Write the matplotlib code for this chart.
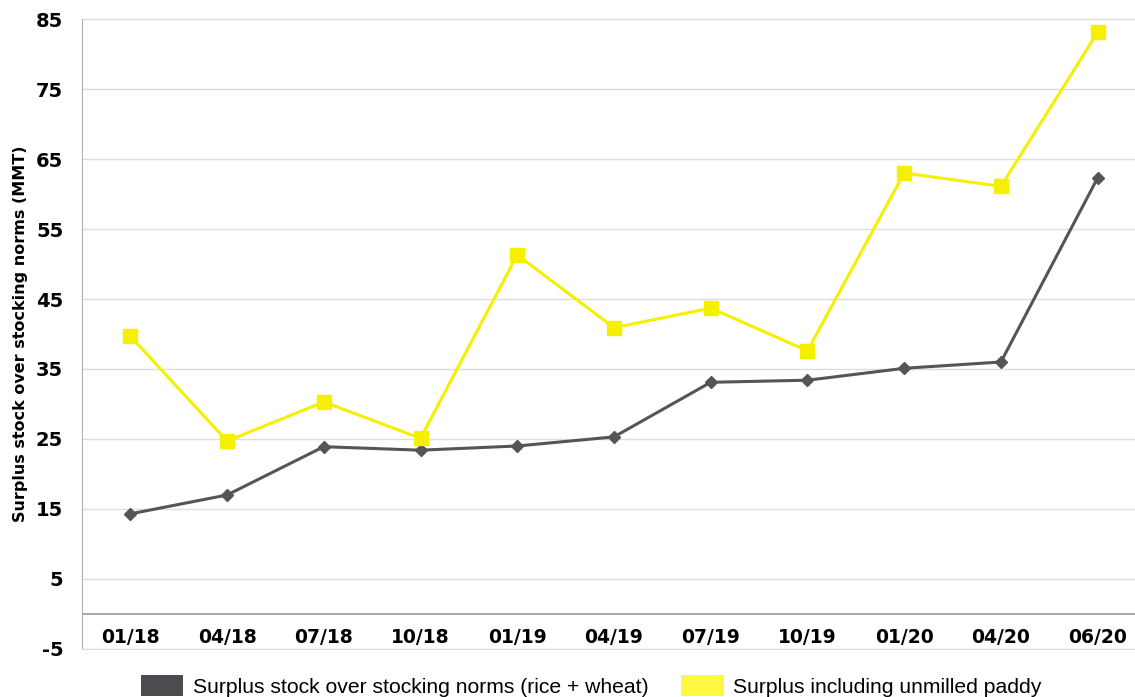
import matplotlib
matplotlib.use("Agg")
import matplotlib.pyplot as plt
from matplotlib.patches import Patch

# Data
periods = ['01/18', '04/18', '07/18', '10/18', '01/19', '04/19',
           '07/19', '10/19', '01/20', '04/20', '06/20']
surplus_rice_wheat = [14.3, 17.0, 23.9, 23.4, 24.0, 25.3, 33.1, 33.4, 35.1, 36.0, 62.3]
surplus_with_paddy = [39.7, 24.7, 30.3, 25.1, 51.3, 40.9, 43.7, 37.6, 63.0, 61.1, 83.1]
yticks = list(range(-5, 86, 10))

gray = '#555555'
yellow = '#f5f000'

fig = plt.figure(figsize=(11.35, 6.97), dpi=100)
ax = fig.add_axes([0.0722, 0.0689, 0.9375, 0.9038])

x = range(len(periods))
ax.plot(x, surplus_rice_wheat, color=gray, lw=2.2, marker='D', ms=6, zorder=3)
ax.plot(x, surplus_with_paddy, color=yellow, lw=2.2, marker='s', ms=9.5, zorder=3)

ax.set_xlim(-0.5, len(periods) - 0.5)
ax.set_ylim(-5, 85)
ax.set_yticks(yticks)
ax.set_yticklabels([str(v) for v in yticks], fontsize=14, fontweight='bold')
ax.tick_params(axis='y', length=0, pad=13.5)
ax.grid(axis='y', color='#dddddd', lw=1)
ax.set_axisbelow(True)
ax.axhline(0, color='#999999', lw=1.2, zorder=2)

# x labels sit between the zero line and the bottom
ax.set_xticks([])
for i, p in enumerate(periods):
    ax.text(i, -3.3, p, ha='center', va='center', fontsize=13.5, fontweight='bold')

for s in ['top', 'right']:
    ax.spines[s].set_visible(False)
ax.spines['left'].set_color('#b0b0b0')
ax.spines['bottom'].set_color('#dddddd')

ax.set_ylabel('Surplus stock over stocking norms (MMT)', fontsize=11.5, fontweight='bold')
ax.yaxis.set_label_coords(-0.051, 0.5)

handles = [Patch(facecolor='#4a4c50', label='Surplus stock over stocking norms (rice + wheat)'),
           Patch(facecolor='#fff740', label='Surplus including unmilled paddy')]
fig.legend(handles=handles, loc='lower center', bbox_to_anchor=(0.521, -0.027), ncol=2,
           frameon=False, prop={'family': 'Liberation Sans', 'size': 15.2},
           handlelength=2.0, handleheight=1.15, columnspacing=1.55, handletextpad=0.45)

fig.savefig('out.png', dpi=100)
